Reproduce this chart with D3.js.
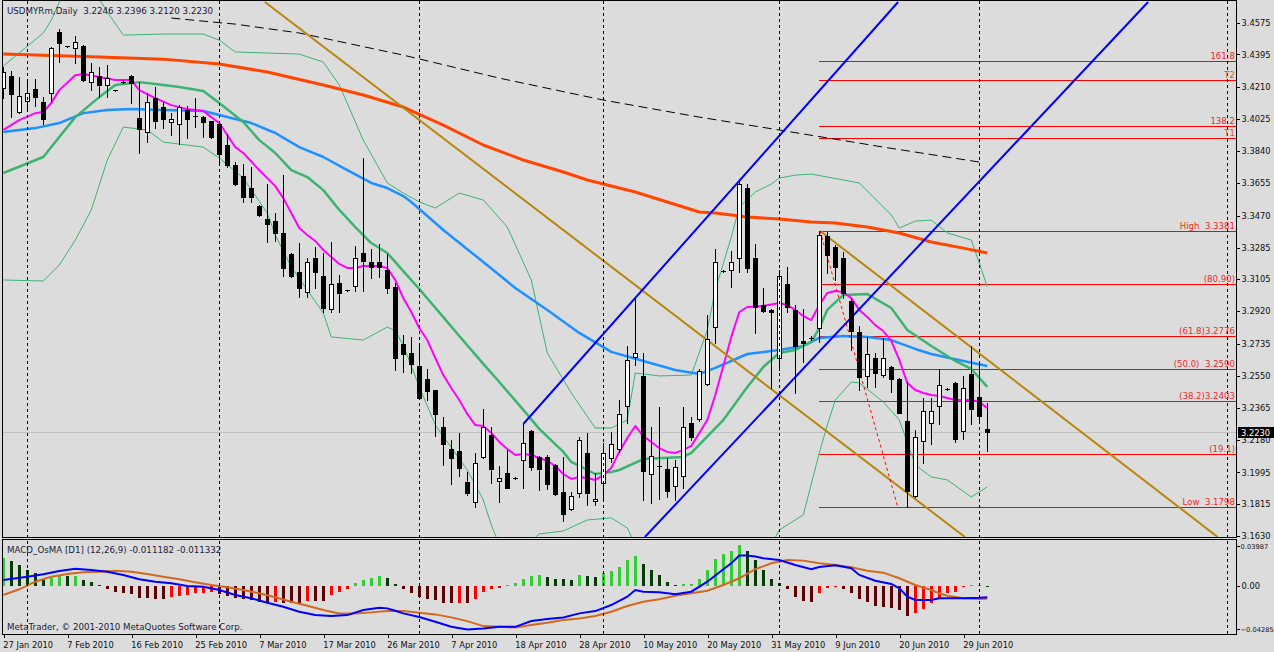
<!DOCTYPE html>
<html><head><meta charset="utf-8">
<script src="https://cdn.jsdelivr.net/npm/d3@7"></script>
<style>
html,body{margin:0;padding:0;background:#dcdcdc;overflow:hidden;}
svg{display:block;}
text{font-family:"DejaVu Sans",Tahoma,sans-serif;font-size:8.3px;white-space:pre;}
text.title{font-size:8.7px;}
</style></head><body>
<svg id="c" width="1274" height="652"></svg>
<script>
// ---------- DATA ----------
const symbolTitle = "USDMYRm,Daily  3.2246 3.2396 3.2120 3.2230";
const macdTitle = "MACD_OsMA [D1] (12,26,9) -0.011182 -0.011332";
const copyright = "MetaTrader, \u00a9 2001-2010 MetaQuotes Software Corp.";

const dateBars = [0,8,16,24,32,40,48,56,64,72,80,88,96,104,112,120];
const dateLabels = ["27 Jan 2010","7 Feb 2010","16 Feb 2010","25 Feb 2010","7 Mar 2010","17 Mar 2010","26 Mar 2010","7 Apr 2010","18 Apr 2010","28 Apr 2010","10 May 2010","20 May 2010","31 May 2010","9 Jun 2010","20 Jun 2010","29 Jun 2010"];
const separatorBars = [3,27,52,75,97,122,153];

const priceTicks = [3.4575,3.4395,3.4210,3.4025,3.3840,3.3655,3.3470,3.3285,3.3105,3.2920,3.2735,3.2550,3.2365,3.2180,3.1995,3.1815,3.1630];
const macdTicks = [0.03987,0,-0.04285];
const lastPrice = 3.2230;

const opens = [3.4202,3.4271,3.4065,3.4127,3.4196,3.4122,3.4173,3.4524,3.4443,3.4431,3.4443,3.4236,3.4271,3.4219,3.4190,3.4238,3.4271,3.4030,3.3949,3.4144,3.4093,3.4007,3.3995,3.4076,3.4041,3.4036,3.4012,3.3995,3.3875,3.3760,3.3697,3.3628,3.3525,3.3450,3.3438,3.3370,3.3249,3.3146,3.3031,3.3226,3.3123,3.2933,3.3083,3.3042,3.3065,3.3255,3.3203,3.3203,3.3157,3.3060,3.2732,3.2681,3.2606,3.2532,3.2468,3.2256,3.2130,3.2118,3.1940,3.1825,3.2084,3.2210,3.1946,3.1992,3.1963,3.2067,3.2233,3.2084,3.2084,3.2038,3.1883,3.1785,3.1877,3.2107,3.1831,3.1935,3.2078,3.2130,3.2377,3.2658,3.2549,3.1986,3.2032,3.2015,3.1917,3.1975,3.2279,3.2302,3.2503,3.2830,3.3151,3.3157,3.3226,3.3628,3.3226,3.2956,3.2928,3.2652,3.3077,3.2928,3.2750,3.2767,3.2824,3.3352,3.3289,3.3226,3.2979,3.2801,3.2549,3.2652,3.2555,3.2600,3.2532,3.2290,3.1860,3.2176,3.2279,3.2377,3.2474,3.2509,3.2233,3.2560,3.2428,3.2246];
const highs = [3.4323,3.4299,3.4265,3.4248,3.4254,3.4150,3.4437,3.4541,3.4446,3.4500,3.4449,3.4346,3.4323,3.4334,3.4193,3.4248,3.4275,3.4236,3.4173,3.4208,3.4122,3.4059,3.4104,3.4099,3.4144,3.4040,3.4015,3.3999,3.3938,3.3777,3.3766,3.3748,3.3530,3.3651,3.3484,3.3702,3.3255,3.3312,3.3226,3.3289,3.3255,3.3318,3.3129,3.3045,3.3295,3.3800,3.3278,3.3306,3.3249,3.3083,3.2784,3.2773,3.2738,3.2589,3.2471,3.2313,3.2181,3.2222,3.1998,3.2107,3.2360,3.2256,3.2032,3.2124,3.1966,3.2273,3.2236,3.2090,3.2095,3.2044,3.2084,3.1883,3.2199,3.2222,3.1992,3.2164,3.2227,3.2411,3.2721,3.2997,3.2681,3.2256,3.2371,3.2078,3.2067,3.2371,3.2313,3.2589,3.2899,3.3278,3.3157,3.3266,3.3674,3.3651,3.3306,3.3054,3.2933,3.3157,3.3174,3.2956,3.2933,3.2778,3.3381,3.3375,3.3301,3.3261,3.2997,3.2836,3.2773,3.2681,3.2767,3.2604,3.2535,3.2514,3.2239,3.2422,3.2422,3.2589,3.2477,3.2512,3.2549,3.2721,3.2624,3.2396];
const lows = [3.4144,3.4036,3.4059,3.4087,3.4099,3.3995,3.4127,3.4352,3.4440,3.4346,3.4242,3.4190,3.4150,3.4150,3.4187,3.4231,3.4116,3.3829,3.3892,3.3972,3.3972,3.3932,3.3880,3.3915,3.3978,3.3921,3.3918,3.3771,3.3748,3.3645,3.3548,3.3548,3.3467,3.3318,3.3324,3.3123,3.3117,3.3002,3.3002,3.3054,3.2916,3.2916,3.2916,3.3039,3.3037,3.3037,3.3111,3.3117,3.3025,3.2583,3.2572,3.2566,3.2419,3.2411,3.2204,3.2038,3.1929,3.1975,3.1866,3.1797,3.2078,3.1935,3.1825,3.1903,3.1960,3.1906,3.2009,3.1894,3.1900,3.1866,3.1716,3.1780,3.1854,3.1808,3.1808,3.1837,3.2055,3.2112,3.2279,3.2612,3.1837,3.1820,3.1843,3.1854,3.1837,3.1906,3.2181,3.2290,3.2497,3.2738,3.3146,3.3060,3.3146,3.3146,3.2796,3.2916,3.2480,3.2583,3.2916,3.2451,3.2629,3.2755,3.2744,3.3140,3.3100,3.2997,3.2698,3.2468,3.2486,3.2486,3.2543,3.2457,3.2334,3.1798,3.1854,3.2049,3.2158,3.2273,3.2471,3.2170,3.2187,3.2273,3.2296,3.2120];
const closes = [3.4294,3.4167,3.4156,3.4173,3.4150,3.4024,3.4431,3.4460,3.4443,3.4466,3.4248,3.4294,3.4219,3.4259,3.4190,3.4234,3.4231,3.3967,3.4122,3.4012,3.4024,3.4024,3.4093,3.4024,3.4041,3.4007,3.3921,3.3823,3.3760,3.3651,3.3576,3.3576,3.3473,3.3421,3.3370,3.3169,3.3123,3.3054,3.3203,3.3146,3.2939,3.3077,3.3025,3.3042,3.3226,3.3209,3.3174,3.3174,3.3054,3.2652,3.2675,3.2618,3.2422,3.2463,3.2331,3.2158,3.2078,3.2021,3.1877,3.2049,3.2256,3.2015,3.1963,3.1906,3.1963,3.2164,3.2026,3.2015,3.1929,3.1871,3.1757,3.1860,3.2181,3.1877,3.1843,3.2107,3.2158,3.2331,3.2641,3.2681,3.2003,3.2089,3.2032,3.1889,3.2026,3.2256,3.2199,3.2578,3.2761,3.3203,3.3151,3.3203,3.3651,3.3169,3.2945,3.2922,3.2916,3.3123,3.2945,3.2721,3.2738,3.2767,3.3358,3.3243,3.3174,3.3025,3.2807,3.2543,3.2675,3.2566,3.2652,3.2532,3.2337,3.1889,3.2199,3.2348,3.2348,3.2497,3.2474,3.2187,3.2480,3.2360,3.2319,3.2230];

// moving averages / bands: [bar, price]
const maFast = [[0,3.3961],[2,3.4018],[4,3.4058],[5,3.4064],[6,3.4116],[7,3.4190],[9,3.4276],[10,3.4282],[12,3.4265],[14,3.4248],[16,3.4248],[17,3.4190],[19,3.4144],[21,3.4104],[23,3.4081],[25,3.4070],[26,3.4035],[27,3.4001],[28,3.3932],[29,3.3863],[30,3.3829],[32,3.3731],[33,3.3685],[34,3.3639],[35,3.3570],[36,3.3484],[37,3.3398],[38,3.3358],[39,3.3324],[40,3.3272],[41,3.3232],[42,3.3192],[43,3.3169],[44,3.3169],[45,3.3180],[47,3.3180],[48,3.3169],[49,3.3100],[50,3.2996],[51,3.2916],[52,3.2824],[53,3.2755],[54,3.2652],[55,3.2554],[56,3.2480],[57,3.2411],[58,3.2331],[59,3.2267],[60,3.2262],[61,3.2222],[62,3.2170],[63,3.2130],[64,3.2095],[65,3.2101],[66,3.2095],[67,3.2078],[68,3.2061],[69,3.2032],[70,3.1986],[71,3.1958],[72,3.1969],[73,3.1963],[74,3.1952],[75,3.1980],[76,3.2021],[77,3.2113],[78,3.2193],[79,3.2262],[80,3.2204],[81,3.2170],[82,3.2135],[83,3.2113],[84,3.2107],[85,3.2124],[86,3.2147],[87,3.2222],[88,3.2296],[89,3.2440],[90,3.2606],[91,3.2773],[92,3.2916],[93,3.2945],[95,3.2951],[97,3.2968],[98,3.2956],[99,3.2928],[100,3.2893],[101,3.2870],[102,3.2956],[103,3.3025],[104,3.3037],[105,3.3031],[106,3.2996],[107,3.2928],[108,3.2887],[109,3.2841],[110,3.2807],[111,3.2750],[112,3.2641],[113,3.2509],[114,3.2468],[115,3.2451],[116,3.2440],[117,3.2434],[118,3.2422],[119,3.2411],[121,3.2411],[122,3.2400],[123,3.2365]];
const bandMid = [[0,3.3714],[5,3.3806],[7,3.3921],[9,3.4035],[12,3.4150],[14,3.4219],[17,3.4236],[19,3.4225],[22,3.4208],[25,3.4185],[27,3.4116],[30,3.4007],[32,3.3903],[34,3.3829],[36,3.3731],[38,3.3691],[40,3.3616],[42,3.3502],[44,3.3404],[46,3.3312],[48,3.3255],[50,3.3151],[52,3.3048],[55,3.2887],[57,3.2778],[60,3.2618],[62,3.2514],[65,3.2354],[67,3.2245],[70,3.2113],[71,3.2055],[74,3.1986],[76,3.1998],[77,3.2009],[80,3.2072],[85,3.2084],[86,3.2107],[90,3.2296],[93,3.2486],[95,3.2600],[97,3.2681],[99,3.2698],[101,3.2744],[102,3.2824],[103,3.2928],[105,3.3014],[108,3.3019],[111,3.2939],[113,3.2813],[116,3.2721],[119,3.2635],[121,3.2589],[123,3.2486]];
const bandUpper = [[0,3.4328],[5,3.4518],[6,3.4592],[7,3.4696],[9,3.4820],[11,3.4790],[13,3.4638],[15,3.4506],[20,3.4512],[25,3.4512],[27,3.4477],[29,3.4409],[37,3.4397],[40,3.4351],[42,3.4219],[45,3.3903],[48,3.3657],[50,3.3599],[52,3.3548],[54,3.3513],[57,3.3599],[60,3.3559],[63,3.3404],[66,3.3100],[68,3.2681],[71,3.2451],[74,3.2250],[76,3.2250],[78,3.2296],[79,3.2566],[82,3.2549],[86,3.2554],[88,3.2813],[89,3.3042],[91,3.3347],[92,3.3519],[94,3.3605],[96,3.3651],[97,3.3685],[99,3.3702],[101,3.3708],[103,3.3691],[107,3.3657],[111,3.3473],[112,3.3398],[114,3.3438],[116,3.3444],[118,3.3370],[121,3.3329],[122,3.3197],[123,3.3060]];
const bandLower = [[0,3.3100],[5,3.3094],[7,3.3186],[9,3.3329],[11,3.3502],[13,3.3789],[15,3.3978],[18,3.3961],[20,3.3892],[25,3.3863],[27,3.3800],[30,3.3685],[33,3.3484],[34,3.3358],[36,3.3174],[38,3.3042],[40,3.2910],[41,3.2773],[45,3.2755],[48,3.2830],[49,3.2807],[50,3.2727],[52,3.2486],[54,3.2267],[58,3.2009],[60,3.1837],[61,3.1693],[62,3.1579],[65,3.1561],[67,3.1642],[70,3.1659],[73,3.1722],[76,3.1734],[78,3.1676],[79,3.1579],[85,3.1406],[92,3.1406],[96,3.1579],[97,3.1665],[100,3.1751],[102,3.2107],[103,3.2267],[104,3.2411],[106,3.2514],[107,3.2509],[110,3.2400],[112,3.2296],[114,3.2038],[116,3.1969],[118,3.1952],[121,3.1854],[123,3.1912]];
const maMid = [[0,3.3949],[4,3.3972],[7,3.4001],[10,3.4058],[13,3.4076],[16,3.4081],[20,3.4076],[25,3.4070],[27,3.4047],[31,3.4001],[34,3.3944],[37,3.3863],[40,3.3806],[43,3.3731],[46,3.3657],[48,3.3628],[50,3.3582],[51,3.3548],[55,3.3387],[60,3.3203],[64,3.3054],[68,3.2928],[72,3.2796],[76,3.2687],[80,3.2635],[84,3.2583],[87,3.2560],[89,3.2595],[93,3.2675],[97,3.2698],[100,3.2721],[102,3.2767],[105,3.2778],[108,3.2773],[111,3.2755],[114,3.2704],[116,3.2675],[120,3.2635],[123,3.2606]];
const maSlow = [[0,3.4397],[4,3.4391],[12,3.4380],[20,3.4368],[27,3.4340],[33,3.4294],[40,3.4219],[45,3.4162],[50,3.4093],[55,3.3989],[60,3.3875],[65,3.3789],[70,3.3720],[73,3.3674],[79,3.3605],[87,3.3490],[89,3.3484],[93,3.3461],[97,3.3450],[101,3.3433],[104,3.3427],[108,3.3404],[112,3.3370],[116,3.3318],[120,3.3283],[123,3.3255]];
const maLong = [[21,3.4604],[25,3.4586],[29,3.4569],[37,3.4518],[50,3.4391],[62,3.4259],[75,3.4133],[87,3.4035],[97,3.3961],[110,3.3863],[122,3.3777]];

// drawn objects: [[bar, price],[bar, price]]
const brownLines = [[[32.7,3.4696],[120.2,3.16243]],[[102.1,3.3381],[151.8,3.16243]]];
const blueLines = [[[65,3.2273],[111.85,3.4696]],[[80.2,3.16243],[143.1,3.4696]]];
const fibDiagonal = [[102.1,3.3381],[111.8,3.1798]];
const fibStartBar = 102;
const fibLabels = ["161.8","T2","138.2","T1","High  3.3381","(80.90)","(61.8)3.2776","(50.0)  3.2590","(38.2)3.2403","(19.1)","Low  3.1798"];
const fibPrices = [3.4359,3.4248,3.3986,3.3915,3.3381,3.3079,3.2776,3.2590,3.2403,3.2100,3.1798];

// MACD panel
const osma = [0.028,0.025,0.021,0.016,0.013,0.0065,0.0075,0.011,0.0095,0.010,0.006,0.004,0.0005,-0.003,-0.006,-0.007,-0.008,-0.012,-0.0123,-0.013,-0.0133,-0.011,-0.0095,-0.009,-0.007,-0.0065,-0.0062,-0.008,-0.010,-0.012,-0.0133,-0.014,-0.0157,-0.0167,-0.0157,-0.0167,-0.0173,-0.0175,-0.0147,-0.015,-0.0153,-0.009,-0.006,-0.003,0.003,0.0055,0.008,0.010,0.008,0.0015,-0.003,-0.007,-0.011,-0.0133,-0.014,-0.0167,-0.0168,-0.0165,-0.0168,-0.013,-0.006,-0.003,-0.0015,0.0005,0.003,0.007,0.0095,0.0105,0.009,0.007,0.0065,0.0063,0.0105,0.0095,0.009,0.0125,0.0147,0.019,0.0257,0.0297,0.022,0.0157,0.0105,0.004,0.0013,0.0017,0.0023,0.007,0.016,0.0265,0.0323,0.0347,0.0407,0.0347,0.0257,0.0157,0.0067,0.003,-0.003,-0.011,-0.015,-0.0157,-0.007,-0.0018,-0.0013,-0.003,-0.007,-0.0133,-0.016,-0.020,-0.0207,-0.0217,-0.024,-0.0297,-0.0273,-0.023,-0.0173,-0.0117,-0.0067,-0.006,-0.0007,0.0007,0.001,0.00015];
const macdLine = [[0,0.0060],[3,0.0093],[5,0.0117],[7,0.0150],[9,0.0173],[11,0.0160],[13,0.0143],[15,0.0110],[17,0.0067],[19,0.0043],[21,0.0027],[23,0.0000],[25,-0.0007],[27,-0.0040],[29,-0.0090],[31,-0.0123],[33,-0.0167],[35,-0.0207],[37,-0.0257],[39,-0.0290],[41,-0.0300],[43,-0.0290],[45,-0.0240],[47,-0.0217],[48,-0.0223],[49,-0.0247],[50,-0.0273],[52,-0.0310],[54,-0.0357],[56,-0.0407],[58,-0.0433],[60,-0.0423],[62,-0.0407],[64,-0.0407],[66,-0.0350],[68,-0.0330],[70,-0.0313],[72,-0.0273],[74,-0.0250],[76,-0.0190],[78,-0.0107],[79,-0.0040],[80,-0.0057],[82,-0.0063],[84,-0.0083],[86,-0.0057],[88,0.0043],[90,0.0167],[91,0.0227],[92,0.0303],[93,0.0303],[94,0.0293],[95,0.0277],[97,0.0260],[99,0.0210],[101,0.0167],[102,0.0190],[104,0.0207],[106,0.0177],[107,0.0110],[109,0.0053],[111,0.0020],[112,-0.0023],[113,-0.0107],[114,-0.0140],[116,-0.0140],[117,-0.0123],[120,-0.0123],[122,-0.0117],[123,-0.0112]];
const signalLine = [[0,-0.0090],[2,-0.0033],[4,0.0043],[6,0.0093],[8,0.0120],[10,0.0137],[12,0.0143],[14,0.0153],[16,0.0143],[18,0.0120],[20,0.0093],[22,0.0067],[24,0.0037],[26,0.0010],[28,-0.0013],[30,-0.0040],[32,-0.0073],[34,-0.0113],[36,-0.0157],[38,-0.0197],[40,-0.0240],[42,-0.0273],[44,-0.0273],[46,-0.0263],[48,-0.0250],[50,-0.0250],[52,-0.0267],[54,-0.0283],[56,-0.0313],[58,-0.0350],[60,-0.0400],[62,-0.0407],[64,-0.0413],[66,-0.0390],[68,-0.0367],[70,-0.0340],[72,-0.0323],[74,-0.0300],[76,-0.0257],[78,-0.0200],[80,-0.0157],[82,-0.0133],[84,-0.0097],[86,-0.0073],[88,-0.0047],[90,0.0010],[92,0.0077],[94,0.0167],[96,0.0227],[98,0.0260],[100,0.0253],[102,0.0227],[104,0.0210],[106,0.0187],[108,0.0153],[110,0.0133],[112,0.0077],[114,0.0010],[116,-0.0040],[117,-0.0073],[118,-0.0097],[120,-0.0123],[122,-0.0130],[123,-0.0128]];

// ---------- LAYOUT ----------
const PL = 2, PR = 1236, MT = 1, MB = 537, ST = 540, SB = 634;
const svg = d3.select('#c');
svg.append('rect').attr('width',1274).attr('height',652).attr('fill','#dcdcdc');

const x = d3.scaleLinear().domain([0,100]).range([3.3,803.3]);
const y = d3.scaleLinear().domain([3.16243,3.4696]).range([537,2]);
const ym = d3.scaleLinear().domain([-0.04786,0.04636]).range([634,539.5]);
const cx = b => Math.round(x(b));

const defs = svg.append('defs');
defs.append('clipPath').attr('id','clipMain').append('rect').attr('x',PL+1).attr('y',MT).attr('width',PR-PL-1).attr('height',MB-MT);
defs.append('clipPath').attr('id','clipSub').append('rect').attr('x',PL+1).attr('y',ST).attr('width',PR-PL-1).attr('height',SB-ST);

const main = svg.append('g').attr('clip-path','url(#clipMain)');
const sub = svg.append('g').attr('clip-path','url(#clipSub)');

// separators (both panels)
svg.append('g').selectAll('line').data(separatorBars).join('line')
  .attr('x1',d=>cx(d)+0.5).attr('x2',d=>cx(d)+0.5).attr('y1',MT).attr('y2',SB)
  .attr('stroke','#000').attr('stroke-width',1).attr('stroke-dasharray','3,3').attr('shape-rendering','crispEdges');

// bid line
main.append('line').attr('x1',PL).attr('x2',PR).attr('y1',Math.round(y(lastPrice))+0.5).attr('y2',Math.round(y(lastPrice))+0.5)
  .attr('stroke','#c0c0c0').attr('shape-rendering','crispEdges');

// fib levels
main.append('g').selectAll('line').data(fibPrices).join('line')
  .attr('x1',cx(fibStartBar)).attr('x2',PR).attr('y1',d=>Math.round(y(d))+0.5).attr('y2',d=>Math.round(y(d))+0.5)
  .attr('stroke','#ff0000').attr('shape-rendering','crispEdges');

const line = d3.line().x(d=>x(d[0])).y(d=>y(d[1]));
function drawLine(g, data, color, w, dash){
  const p = g.append('path').datum(data).attr('d',line).attr('fill','none').attr('stroke',color).attr('stroke-width',w).attr('stroke-linejoin','round');
  if(dash) p.attr('stroke-dasharray',dash);
  return p;
}
drawLine(main, bandUpper, '#3cb371', 1);
drawLine(main, bandLower, '#3cb371', 1);
drawLine(main, maLong, '#000000', 1, '9,5');
drawLine(main, maSlow, '#ff4500', 3);
drawLine(main, maMid, '#1e90ff', 2.5);
drawLine(main, bandMid, '#3cb371', 2.5);
drawLine(main, maFast, '#ff00ff', 2);
brownLines.forEach(l=>drawLine(main, l, '#b8860b', 2));
blueLines.forEach(l=>drawLine(main, l, '#0000ff', 2));
drawLine(main, fibDiagonal, '#ff0000', 1, '3,3');

// candles
const bars = opens.map((o,i)=>({i,o,h:highs[i],l:lows[i],c:closes[i]}));
const gc = main.append('g').attr('shape-rendering','crispEdges');
gc.selectAll('line.w').data(bars).join('line').attr('class','w')
  .attr('x1',d=>cx(d.i)+0.5).attr('x2',d=>cx(d.i)+0.5)
  .attr('y1',d=>Math.round(y(d.h))).attr('y2',d=>Math.round(y(d.l))+1)
  .attr('stroke','#000');
const bodies = bars.filter(d=>Math.abs(Math.round(y(d.o))-Math.round(y(d.c)))>=2);
gc.selectAll('rect.b').data(bodies).join('rect').attr('class','b')
  .attr('x',d=>cx(d.i)-2+0.5).attr('width',4)
  .attr('y',d=>Math.round(y(Math.max(d.o,d.c)))+0.5)
  .attr('height',d=>Math.round(y(Math.min(d.o,d.c)))-Math.round(y(Math.max(d.o,d.c))))
  .attr('fill',d=>d.c>=d.o?'#ffffff':'#000000').attr('stroke','#000');
const dojis = bars.filter(d=>Math.abs(Math.round(y(d.o))-Math.round(y(d.c)))<2);
gc.selectAll('line.d').data(dojis).join('line').attr('class','d')
  .attr('x1',d=>cx(d.i)-2).attr('x2',d=>cx(d.i)+3)
  .attr('y1',d=>Math.round(y(d.c))+0.5).attr('y2',d=>Math.round(y(d.c))+0.5)
  .attr('stroke','#000');

// fib labels
svg.append('g').selectAll('text').data(fibLabels).join('text')
  .attr('x',PR-1).attr('y',(d,i)=>Math.round(y(fibPrices[i]))-2)
  .attr('text-anchor','end').attr('fill',(d,i)=>(d[0]==='T')?'#e8541e':'#f0282a')
  .style('font-size','8.6px').text(d=>d);

// MACD histogram
const hcol = osma.map((v,i)=>{ const p = i>0?osma[i-1]:-Infinity; if(v>=0) return v>p?'#32cd32':'#013c01'; return v>p?'#ff0000':'#5e0000'; });
sub.append('g').attr('shape-rendering','crispEdges').selectAll('rect').data(osma).join('rect')
  .attr('x',(d,i)=>cx(i)-1).attr('width',3)
  .attr('y',d=>Math.min(ym(0),ym(d))).attr('height',d=>Math.max(1,Math.abs(ym(d)-ym(0))))
  .attr('fill',(d,i)=>hcol[i]);
const lineM = d3.line().x(d=>x(d[0])).y(d=>ym(d[1]));
sub.append('path').datum(signalLine).attr('d',lineM).attr('fill','none').attr('stroke','#d2691e').attr('stroke-width',2);
sub.append('path').datum(macdLine).attr('d',lineM).attr('fill','none').attr('stroke','#0000ff').attr('stroke-width',2);

// panel borders
const border = svg.append('g').attr('fill','none').attr('stroke','#000').attr('shape-rendering','crispEdges');
border.append('rect').attr('x',PL+0.5).attr('y',MT-0.5).attr('width',PR-PL).attr('height',MB-MT+0.5);
border.append('rect').attr('x',PL+0.5).attr('y',ST-0.5).attr('width',PR-PL).attr('height',SB-ST+0.5);

// axes
const yAxis = d3.axisRight(y).tickValues(priceTicks).tickFormat(d3.format('.4f')).tickSize(3).tickPadding(2);
const gy = svg.append('g').attr('transform',`translate(${PR+0.5},0)`).call(yAxis);
const mAxis = d3.axisRight(ym).tickValues(macdTicks).tickFormat(d=>d===0?'0.00':d3.format('.5f')(d)).tickSize(3).tickPadding(2);
const gm = svg.append('g').attr('transform',`translate(${PR+0.5},0)`).call(mAxis);
const xAxis = d3.axisBottom(x).tickValues(dateBars).tickFormat((d,i)=>dateLabels[i]).tickSize(3).tickPadding(2);
const gx = svg.append('g').attr('transform',`translate(0.5,${SB+0.5})`).call(xAxis);
[gy,gm,gx].forEach(g=>{
  g.select('.domain').remove();
  g.attr('font-size',null).attr('font-family',null);
  g.selectAll('line').attr('stroke','#000').attr('shape-rendering','crispEdges');
  g.selectAll('text').attr('fill','#101010');
});
gx.selectAll('.tick text').attr('text-anchor','start').attr('x',-1).attr('dy',null).attr('y',13);
// keep the long MACD scale labels inside the window
gm.selectAll('.tick text').filter(d=>d!==0).attr('x',4).style('font-size','6.7px');

// current price box
svg.append('rect').attr('x',PR+2).attr('y',Math.round(y(lastPrice))-5).attr('width',40).attr('height',11).attr('fill','#000');
svg.append('text').attr('x',PR+5).attr('y',Math.round(y(lastPrice))+3.5).attr('fill','#fff').text(d3.format('.4f')(lastPrice));

// titles
svg.append('text').attr('class','title').attr('x',7).attr('y',14).attr('fill','#1a1a3a').text(symbolTitle);
svg.append('text').attr('class','title').attr('x',7).attr('y',553).attr('fill','#1a1a3a').text(macdTitle);
svg.append('text').attr('class','title').attr('x',7).attr('y',630).attr('fill','#1a1a3a').text(copyright);
</script></body></html>
